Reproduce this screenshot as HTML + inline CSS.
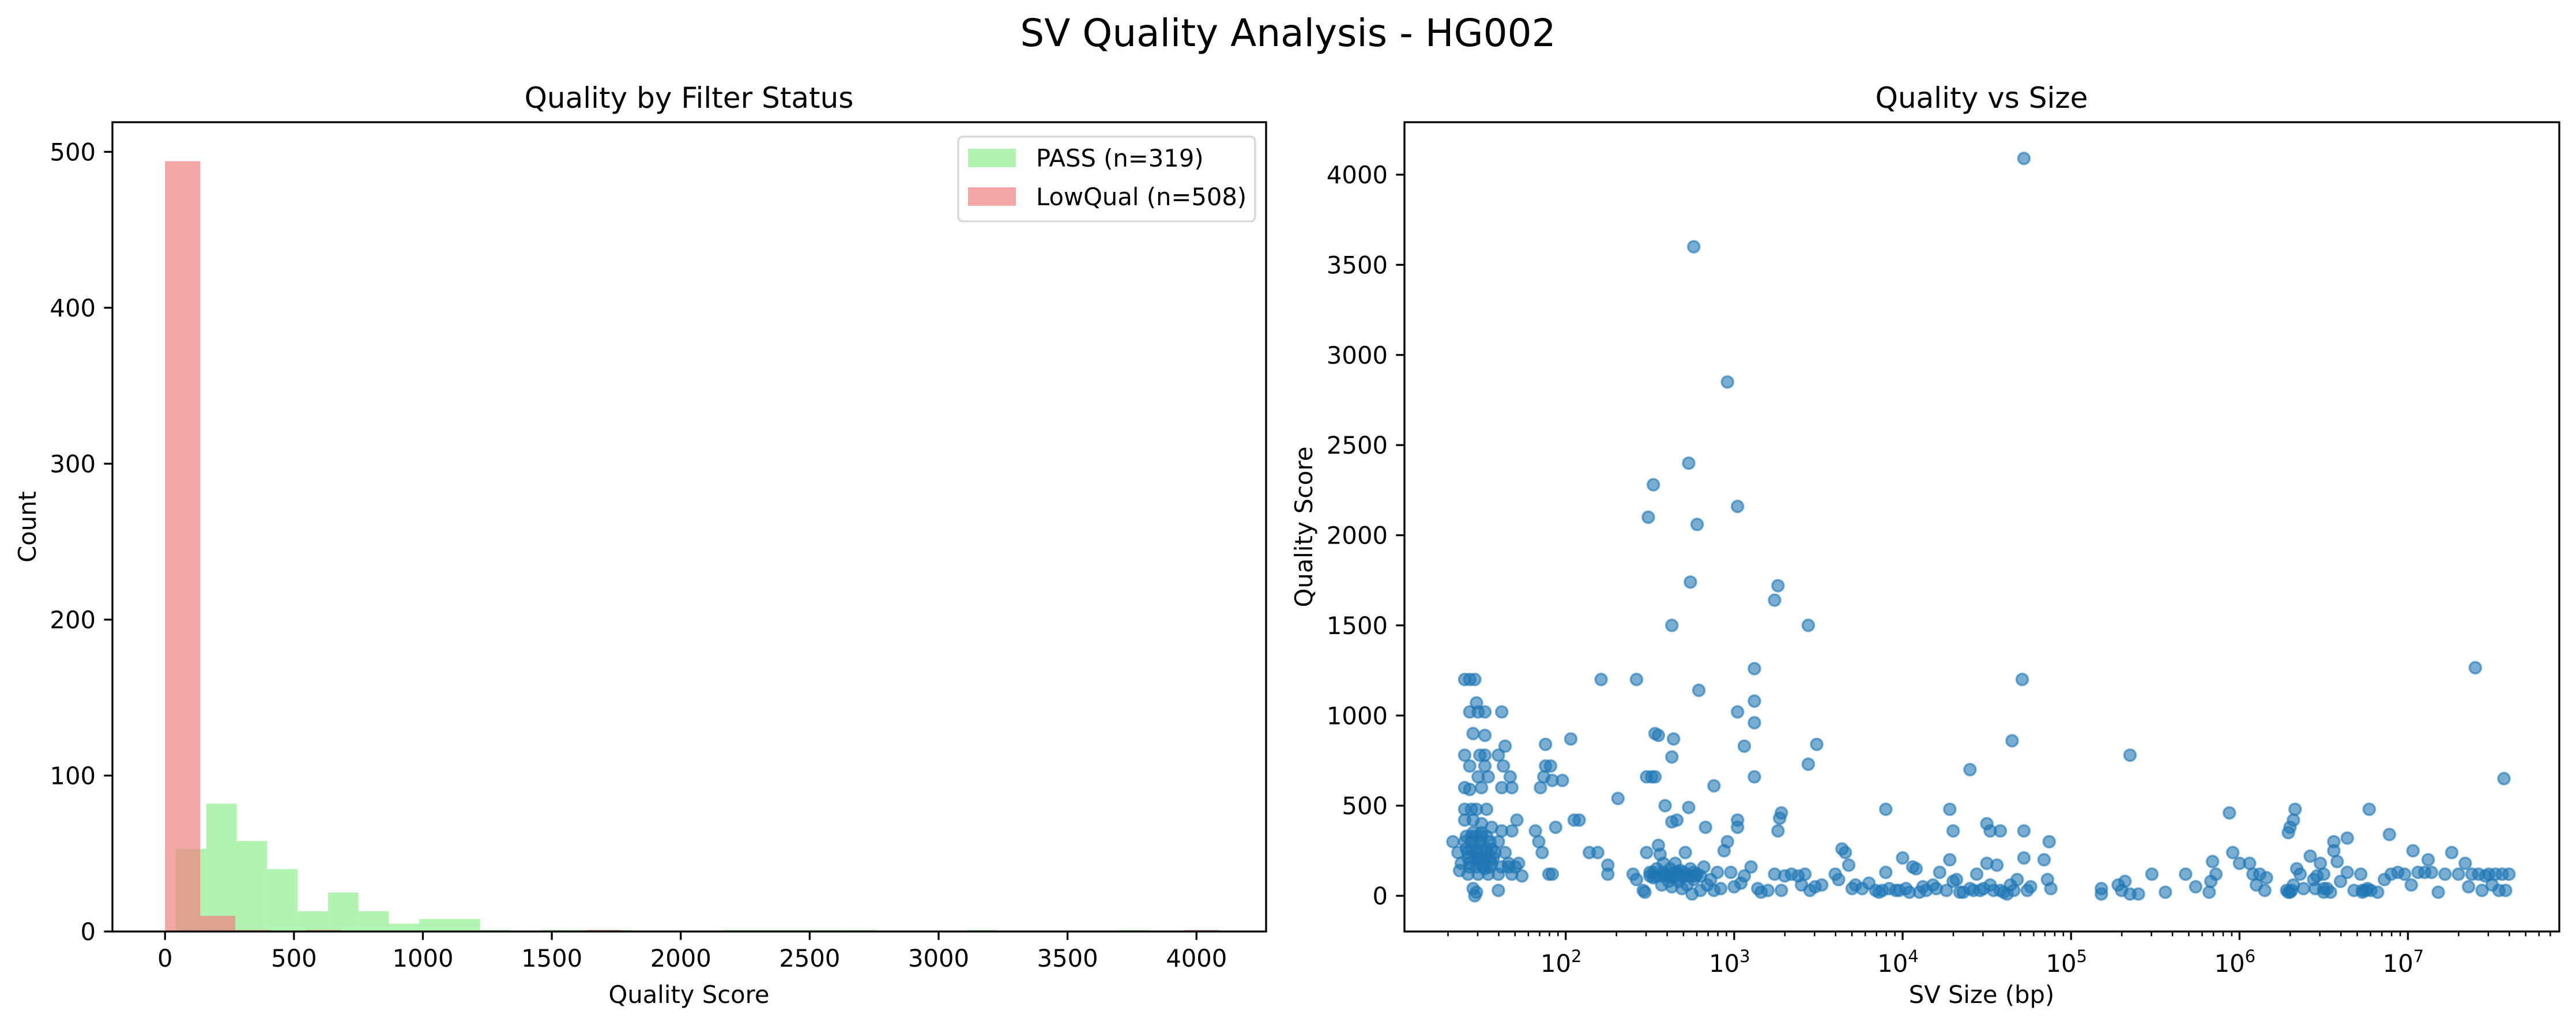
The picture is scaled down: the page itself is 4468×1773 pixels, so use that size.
<!DOCTYPE html>
<html><head><meta charset="utf-8"><title>SV Quality Analysis - HG002</title>
<style>html,body{margin:0;padding:0;background:#fff}svg{display:block}text{font-family:"DejaVu Sans","Liberation Sans",sans-serif;fill:#000}</style>
</head><body>
<svg id="fig" width="4468" height="1773" viewBox="0 0 4468 1773" xmlns="http://www.w3.org/2000/svg">
<rect width="4468" height="1773" fill="#fff"/>
<text x="2234" y="80" font-size="66" text-anchor="middle">SV Quality Analysis - HG002</text>
<g id="left"></g>
<g id="right"></g>
</svg>
<script>
// ---- histogram data ----
const binWidthPass = 118;
const binStartPass = 42;
const passCounts = [53,82,58,40,13,25,13,5,8,8,1,0,1,1,1,0,0,0,1,1,1,1,1,0,0,0,1,0,0,0,0,1,0];
const binWidthLow = 136.3;
const binStartLow = 0;
const lowCounts = [494,10,1,0,1,0,0,0,0,0,0,0,1,0,0,0,0,0,0,0,0,0,0,0,0,0,0,0,0,1];
const histXTicks = [0,500,1000,1500,2000,2500,3000,3500,4000];
const histYTicks = [0,100,200,300,400,500];
const legendLabels = ["PASS (n=319)","LowQual (n=508)"];
// ---- scatter data (log10 of SV size in bp, quality) ----
const sizeLog10 = [4.72,2.76,2.96,2.73,2.52,2.49,3.02,2.78,2.74,3.26,3.24,2.63,3.44,3.12,4.71,7.40,2.21,2.42,2.79,3.02,3.12,3.12,3.06,3.49,3.12,3.44,4.65,4.40,5.35,7.57,2.53,2.55,2.64,2.63,2.48,2.51,2.53,2.88,2.59,2.73,3.02,3.02,2.83,2.63,2.66,3.28,3.27,3.26,3.90,4.28,4.30,4.50,4.52,4.58,4.72,4.87,5.94,6.33,6.32,6.30,6.29,6.77,6.56,6.64,6.89,7.03,7.12,
1.40,1.43,1.46,1.43,1.47,1.48,1.52,1.62,1.45,1.52,1.64,1.40,1.49,1.52,1.60,1.63,1.43,1.52,1.48,1.54,1.67,1.40,1.43,1.50,1.62,1.68,1.40,1.44,1.47,1.53,1.40,1.45,1.50,1.56,1.62,1.68,1.71,1.33,1.40,1.44,1.49,1.55,1.60,1.36,1.42,1.47,1.53,1.58,1.64,1.38,1.43,1.50,1.56,1.66,1.72,1.37,1.42,1.48,1.54,1.60,1.68,1.74,1.45,1.47,1.46,1.60,1.50,1.45,1.55,1.48,1.52,1.41,1.44,1.47,1.50,1.53,1.41,1.44,1.47,1.50,1.53,1.56,1.42,1.46,1.49,1.52,1.57,1.43,1.47,1.51,1.55,1.62,1.66,1.70,
1.82,1.84,1.86,1.87,1.88,1.85,1.91,1.92,1.88,1.90,1.92,1.94,1.98,2.03,2.05,2.08,2.14,2.19,2.25,2.25,2.31,
2.40,2.42,2.46,2.47,2.48,2.50,2.52,2.54,2.55,2.56,2.57,2.58,2.60,2.61,2.62,2.63,2.64,2.65,2.66,2.67,2.68,2.69,2.70,2.71,2.72,2.74,2.75,2.76,2.78,2.80,2.82,2.84,2.86,2.88,2.90,2.92,2.94,2.96,2.98,3.00,3.04,3.06,3.10,3.14,3.16,3.20,3.24,3.28,3.30,3.34,3.38,3.40,3.42,3.45,3.48,3.52,2.50,2.53,2.56,2.59,2.62,2.65,2.68,2.71,2.74,2.77,2.80,2.52,2.58,2.64,2.70,2.76,
3.60,3.62,3.64,3.66,3.68,3.70,3.72,3.80,3.84,3.86,3.90,3.92,3.96,4.00,4.02,4.04,4.06,4.08,4.10,4.14,4.18,4.22,4.26,4.28,4.30,4.32,4.36,4.40,4.44,4.46,4.50,4.52,4.56,4.58,4.62,4.64,4.68,4.72,4.74,4.76,4.84,4.86,4.88,3.76,3.88,3.98,4.12,4.20,4.34,4.42,4.48,4.54,4.60,4.66,
5.18,5.18,5.28,5.30,5.32,5.35,5.40,5.48,5.56,5.68,5.74,5.82,5.83,5.84,5.86,5.96,6.00,6.06,6.08,6.10,6.12,6.15,6.16,6.30,6.32,6.34,6.36,6.38,6.42,6.44,6.46,6.48,6.50,6.52,6.54,6.56,6.58,6.60,6.64,6.68,6.72,6.76,6.78,6.82,6.86,6.90,6.94,6.98,7.02,7.06,7.10,7.14,7.18,7.22,7.26,7.30,7.34,7.36,7.38,7.42,7.44,7.46,7.48,7.50,7.52,7.54,7.56,7.58,7.60,6.28,6.31,6.45,6.50,6.73,6.75,6.29,6.50,6.73];
const quality = [4090,3600,2850,2400,2280,2100,2160,2060,1740,1720,1640,1500,1500,1260,1200,1265,1200,1200,1140,1020,1080,960,830,840,660,730,860,700,780,650,900,890,870,770,660,660,660,610,500,490,420,380,380,410,420,460,430,360,480,480,360,400,360,360,360,300,460,480,420,380,350,480,300,320,340,250,200,
1200,1200,1200,1020,1070,1020,1020,1020,900,890,830,780,780,780,780,720,720,720,660,660,660,600,590,600,600,600,480,480,480,480,420,420,400,380,360,360,420,300,300,300,300,300,300,240,240,240,240,240,240,180,180,180,180,180,180,140,120,120,120,120,120,110,40,20,0,30,350,350,200,200,150,330,330,330,330,330,260,260,260,260,260,260,210,210,210,210,210,160,160,160,160,160,160,160,
360,300,240,660,720,600,720,640,840,120,120,380,640,870,420,420,240,240,120,170,540,
120,90,30,20,240,130,100,150,280,230,60,180,120,80,150,50,100,180,130,80,140,40,110,240,60,150,10,90,120,30,160,60,90,30,130,40,250,300,130,50,70,110,160,40,20,30,120,30,110,120,110,60,120,30,50,60,110,110,110,110,110,110,110,110,110,110,110,130,130,130,130,130,
120,90,260,240,170,40,60,70,30,20,130,40,30,210,40,20,160,150,20,30,60,130,30,200,80,90,20,40,120,30,180,60,170,30,10,60,90,210,30,50,200,90,40,40,30,30,50,40,20,30,40,30,20,30,
40,10,60,30,80,10,10,120,20,120,50,20,80,190,120,240,180,180,120,60,120,30,100,20,60,150,120,40,220,90,110,180,120,40,20,250,190,80,130,30,120,40,30,20,90,120,130,120,60,130,130,130,20,120,240,120,180,50,120,120,30,110,120,60,120,30,120,30,120,30,30,40,40,30,30,20,20,20];
const scatterYTicks = [0,500,1000,1500,2000,2500,3000,3500,4000];
const scatterXDecades = [2,3,4,5,6,7];

const NS = "http://www.w3.org/2000/svg";
function mk(tag, attrs, parent, txt){const e=document.createElementNS(NS,tag);for(const k in attrs)e.setAttribute(k,attrs[k]);if(txt!==undefined)e.textContent=txt;parent.appendChild(e);return e;}

// ---------- LEFT: histogram ----------
const L = document.getElementById('left');
const LA = {x0:195,x1:2196,y0:212,y1:1616};
const hxMin=-204,hxMax=4270,hyMin=0,hyMax=519;
const hx = v => LA.x0 + (v-hxMin)/(hxMax-hxMin)*(LA.x1-LA.x0);
const hy = v => LA.y1 - (v-hyMin)/(hyMax-hyMin)*(LA.y1-LA.y0);
passCounts.forEach((c,i)=>{ if(!c) return;
  const a=binStartPass+i*binWidthPass;
  const r=mk('rect',{x:hx(a),y:hy(c),width:hx(a+binWidthPass)-hx(a),height:hy(0)-hy(c),fill:'#90ee90','fill-opacity':0.7},L);
  
  
});
lowCounts.forEach((c,i)=>{ if(!c) return;
  const a=binStartLow+i*binWidthLow;
  const r=mk('rect',{x:hx(a),y:hy(c),width:hx(a+binWidthLow)-hx(a),height:hy(0)-hy(c),fill:'#f08080','fill-opacity':0.7},L);
  
  
});
mk('rect',{x:LA.x0,y:LA.y0,width:LA.x1-LA.x0,height:LA.y1-LA.y0,fill:'none',stroke:'#000','stroke-width':3.3},L);
histXTicks.forEach(t=>{const x=hx(t);
  mk('line',{x1:x,x2:x,y1:LA.y1,y2:LA.y1+14.6,stroke:'#000','stroke-width':3.3},L);
  const tx=mk('text',{x:x,y:1677,'font-size':41.7,'text-anchor':'middle'},L,String(t));
  
  
});
histYTicks.forEach(t=>{const y=hy(t);
  mk('line',{x1:LA.x0-14.6,x2:LA.x0,y1:y,y2:y,stroke:'#000','stroke-width':3.3},L);
  const tx=mk('text',{x:166,y:y+15,'font-size':41.7,'text-anchor':'end'},L,String(t));
  
  
});
{const t=mk('text',{x:1195,y:187,'font-size':50,'text-anchor':'middle'},L,'Quality by Filter Status');


const xl=mk('text',{x:1195,y:1740,'font-size':41.7,'text-anchor':'middle'},L,'Quality Score');


const yl=mk('text',{x:0,y:0,'font-size':41.7,'text-anchor':'middle',transform:'translate(62,914) rotate(-90)'},L,'Count');


// legend
const lg=mk('g',{},L);


mk('rect',{x:1662,y:237,width:515,height:147,rx:8,fill:'#fff','fill-opacity':0.8,stroke:'#d6d6d6','stroke-width':3.3},lg);
const cols=['#90ee90','#f08080'];
legendLabels.forEach((lab,i)=>{const cy=274+i*67;
  const e=mk('g',{},lg);
  
  
  mk('rect',{x:1679,y:cy-16,width:83,height:32,fill:cols[i],'fill-opacity':0.7},e);
  mk('text',{x:1797,y:cy+15,'font-size':41.7},e,lab);
});}

// ---------- RIGHT: scatter ----------
const R = document.getElementById('right');
const RA = {x0:2436,x1:4439,y0:212,y1:1616};
const sxMin=1.0425,sxMax=7.8985,syMin=-198,syMax=4291;
const sx = v => RA.x0 + (v-sxMin)/(sxMax-sxMin)*(RA.x1-RA.x0);
const sy = v => RA.y1 - (v-syMin)/(syMax-syMin)*(RA.y1-RA.y0);
const pts=mk('g',{fill:'#1f77b4','fill-opacity':0.6,stroke:'#1f77b4','stroke-opacity':0.6,'stroke-width':3.5},R);
sizeLog10.forEach((s,i)=>{
  const c=mk('circle',{cx:sx(s),cy:sy(quality[i]),r:10},pts);
  
  
});
mk('rect',{x:RA.x0,y:RA.y0,width:RA.x1-RA.x0,height:RA.y1-RA.y0,fill:'none',stroke:'#000','stroke-width':3.3},R);
for(let d=1; d<=7; d++){ for(let m=2;m<=9;m++){ const v=d+Math.log10(m);
  if(v<sxMin||v>sxMax) continue; const x=sx(v);
  mk('line',{x1:x,x2:x,y1:RA.y1,y2:RA.y1+8.3,stroke:'#000','stroke-width':2.5},R);}}
scatterXDecades.forEach(d=>{const x=sx(d);
  mk('line',{x1:x,x2:x,y1:RA.y1,y2:RA.y1+14.6,stroke:'#000','stroke-width':3.3},R);
  const tx=mk('text',{x:x-8,y:1686,'font-size':41.7,'text-anchor':'middle'},R);
  
  
  mk('tspan',{},tx,'10');
  mk('tspan',{dy:-17,'font-size':29},tx,String(d));
});
scatterYTicks.forEach(t=>{const y=sy(t);
  mk('line',{x1:RA.x0-14.6,x2:RA.x0,y1:y,y2:y,stroke:'#000','stroke-width':3.3},R);
  const tx=mk('text',{x:2407,y:y+15,'font-size':41.7,'text-anchor':'end'},R,String(t));
  
  
});
{const t=mk('text',{x:3437,y:187,'font-size':50,'text-anchor':'middle'},R,'Quality vs Size');


const xl=mk('text',{x:3437,y:1740,'font-size':41.7,'text-anchor':'middle'},R,'SV Size (bp)');


const yl=mk('text',{x:0,y:0,'font-size':41.7,'text-anchor':'middle',transform:'translate(2276,914) rotate(-90)'},R,'Quality Score');

}
</script>
</body></html>
